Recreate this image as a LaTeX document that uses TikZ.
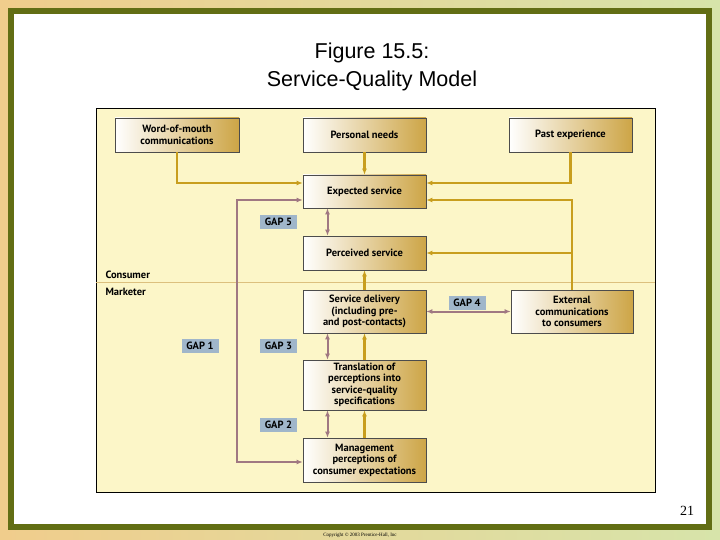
\documentclass[tikz,border=0pt]{standalone}
\usepackage{fontspec}
\setmainfont{Liberation Sans}
\newfontfamily\boxfont{PT Sans}
\usepackage{tikz}
\usetikzlibrary{arrows.meta,calc}

\definecolor{panelfill}{RGB}{252,246,200}
\definecolor{boxgold}{RGB}{205,165,70}
\definecolor{flowcol}{RGB}{200,158,30}
\definecolor{gapcol}{RGB}{160,120,130}
\definecolor{gaplabel}{RGB}{160,182,202}
\definecolor{framecol}{RGB}{98,110,20}
\definecolor{bgleft}{RGB}{240,205,140}
\definecolor{bgright}{RGB}{215,228,170}

\tikzset{
  stage/.style={draw=black!70, line width=0.6pt, left color=white, right color=boxgold,
    shading angle=90, align=center, font=\boxfont\bfseries\fontsize{10.5}{11.5}\selectfont,
    inner sep=1pt},
  gap/.style={fill=gaplabel, font=\boxfont\bfseries\fontsize{10.5}{12}\selectfont,
    minimum width=37pt, minimum height=14pt, inner sep=0pt},
  flow/.style={draw=flowcol, line width=2.6pt, -{Latex[length=6pt,width=5pt]}},
  gapline/.style={draw=gapcol, line width=2pt, {Latex[length=6pt,width=5pt]}-{Latex[length=6pt,width=5pt]}},
  side/.style={font=\boxfont\bfseries\fontsize{10.5}{12}\selectfont, anchor=west}
}

\begin{document}
\begin{tikzpicture}[x=1pt,y=-1pt]

% slide background and frame
\shade[left color=bgleft, right color=bgright] (0,0) rectangle (720,540);
\fill[framecol] (8,8) rectangle (712,530);
\fill[white] (14,14) rectangle (706,524);
\useasboundingbox (0,0) rectangle (720,540);

\node (title) at (372,53) {\fontsize{21.5}{24}\selectfont Figure 15.5:};
\node (subtitle) at (372,81) {\fontsize{21.5}{24}\selectfont Service-Quality Model};

% panel
\draw[fill=panelfill, line width=0.8pt] (96,108) rectangle (655,492);
\draw[draw=boxgold!70, line width=0.6pt] (96,282) -- (655,282);
\node[side] (consumer) at (102,275) {Consumer};
\node[side] (marketer) at (102,292) {Marketer};

% stages
\node[stage, minimum width=124pt, minimum height=34pt] (wom) at (177,135) {Word-of-mouth\\communications};
\node[stage, minimum width=123pt, minimum height=34pt] (needs) at (364.5,135) {Personal needs};
\node[stage, minimum width=123pt, minimum height=34pt] (past) at (570.5,135) {Past experience};
\node[stage, minimum width=123pt, minimum height=33pt] (expected) at (364.5,191.5) {Expected service};
\node[stage, minimum width=123pt, minimum height=34pt] (perceived) at (364.5,253) {Perceived service};
\node[stage, minimum width=123pt, minimum height=43pt] (delivery) at (364.5,311.5) {Service delivery\\(including pre-\\and post-contacts)};
\node[stage, minimum width=122pt, minimum height=43pt] (external) at (572,311.5) {External\\communications\\to consumers};
\node[stage, minimum width=123pt, minimum height=50pt] (translation) at (364.5,385) {Translation of\\perceptions into\\service-quality\\specifications};
\node[stage, minimum width=123pt, minimum height=44pt] (management) at (364.5,460) {Management\\perceptions of\\consumer expectations};

% gap labels
\node[gap] (gap5) at (278.5,222) {GAP 5};
\node[gap] (gap1) at (200,346) {GAP 1};
\node[gap] (gap3) at (278.5,346) {GAP 3};
\node[gap] (gap2) at (278.5,425) {GAP 2};
\node[gap] (gap4) at (467,302.5) {GAP 4};

% consumer-side flows
\coordinate (expA) at ($(expected.west)+(0,-8.5)$);
\coordinate (expB) at ($(expected.west)+(0,8.5)$);
\coordinate (expC) at ($(expected.east)+(0,-8.5)$);
\coordinate (expD) at ($(expected.east)+(0,8.5)$);
\draw[flow] (wom.south) |- (expA);
\draw[flow] (needs) -- (expected);
\draw[flow] (past.south) |- (expC);
\draw[flow] (external.north) |- (expD);
\draw[flow] (external.north |- perceived.east) -- (perceived.east);
\draw[flow] (delivery) -- (perceived);
\draw[flow] (translation) -- (delivery);
\draw[flow] (management) -- (translation);

% gaps
\draw[gapline] ([xshift=-37pt]expected.south) -- ([xshift=-37pt]perceived.north);
\draw[gapline] ([xshift=-37pt]delivery.south) -- ([xshift=-37pt]translation.north);
\draw[gapline] ([xshift=-37pt]translation.south) -- ([xshift=-37pt]management.north);
\draw[gapline] (delivery.east) -- (external.west);
\draw[gapline] (expB) -| (237,462) -- (management.west |- 0,462);

\node (page) at (687,511) {\fontspec{Liberation Serif}\fontsize{14}{16}\selectfont 21};
\node (copy) at (360,535) {\fontspec{Liberation Serif}\fontsize{5}{6}\selectfont Copyright \copyright\ 2003 Prentice-Hall, Inc};

\end{tikzpicture}
\end{document}
